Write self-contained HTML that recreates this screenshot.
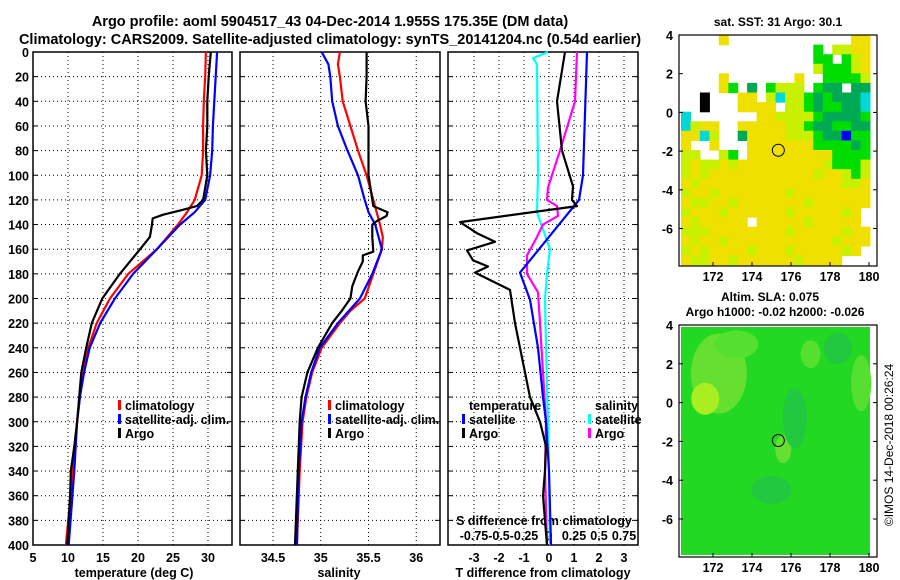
<!DOCTYPE html>
<html><head><meta charset="utf-8"><style>
html,body{margin:0;padding:0;background:#fff;}
svg{display:block;font-family:"Liberation Sans",sans-serif;font-weight:bold;}
</style></head><body>
<svg id="chart" width="900" height="580" viewBox="0 0 900 580" xmlns="http://www.w3.org/2000/svg">
<text x="330" y="26" font-size="14.5" text-anchor="middle">Argo profile: aoml 5904517_43 04-Dec-2014 1.955S 175.35E (DM data)</text>
<text x="330" y="44" font-size="14.5" text-anchor="middle">Climatology: CARS2009. Satellite-adjusted climatology: synTS_20141204.nc (0.54d earlier)</text>
<g id="layer"></g>
</svg>
<script>
// ---- data ----
const depthTicks=[0,20,40,60,80,100,120,140,160,180,200,220,240,260,280,300,320,340,360,380,400];
const tempTicks=[5,10,15,20,25,30];
const salTicks=[34.5,35,35.5,36];
const tdTicks=[-3,-2,-1,0,1,2,3];
const sdTickLabels=["-0.75","-0.5","-0.25","0","0.25","0.5","0.75"];
const sdTicks=[-0.75,-0.5,-0.25,0,0.25,0.5,0.75];

const tArgoD=[0,20,40,60,80,100,120,125,128,132,135,140,150,160,180,200,220,240,260,280,300,320,340,360,380,400];
const tArgo=[30.4,30.1,29.9,29.9,29.7,29.9,29.3,28.4,26.4,23.6,22.1,22.0,21.7,20.3,17.4,14.9,13.4,12.6,11.9,11.6,11.3,10.9,10.4,10.3,10.1,9.9];
const tClimD=[0,20,40,60,80,100,120,130,140,160,180,200,220,240,260,280,300,340,400];
const tClim=[29.7,29.6,29.4,29.3,29.3,29.1,28.1,27.0,25.7,22.7,18.6,16.0,14.1,12.9,12.1,11.7,11.3,10.7,9.7];
const tSat=[31.3,31.1,30.9,30.7,30.6,30.3,29.6,28.1,26.0,22.7,19.3,16.7,14.6,13.1,12.3,11.7,11.3,10.9,10.1];

const sArgoD=[0,20,40,60,80,100,110,125,130,133,137,140,150,162,165,170,178,190,200,210,220,240,260,280,300,340,400];
const sArgo=[35.48,35.48,35.47,35.50,35.50,35.50,35.52,35.55,35.70,35.69,35.59,35.54,35.54,35.55,35.44,35.44,35.39,35.33,35.31,35.22,35.12,34.97,34.86,34.80,34.78,34.76,34.73];
const sClimD=[0,10,20,40,60,80,100,120,140,150,160,180,200,210,220,240,260,280,300,340,400];
const sClim=[35.20,35.18,35.20,35.23,35.31,35.39,35.48,35.55,35.62,35.65,35.64,35.55,35.46,35.31,35.20,35.01,34.91,34.85,34.81,34.78,34.75];
const sSatD=[0,10,20,40,60,80,100,120,130,140,160,180,200,220,240,260,280,300,340,400];
const sSat=[35.01,35.08,35.10,35.12,35.18,35.28,35.39,35.46,35.50,35.57,35.64,35.54,35.41,35.18,34.99,34.90,34.84,34.80,34.77,34.75];

const dTArgoD=[0,40,80,109,120,125,138,147,154,161,169,174,179,193,220,240,260,280,300,320,340,360,380,400];
const dTArgo=[0.64,0.32,0.52,0.96,0.92,1.12,-3.56,-2.88,-2.16,-3.28,-3.04,-2.44,-2.96,-1.56,-1.36,-1.16,-0.96,-0.76,-0.36,-0.12,-0.16,-0.24,-0.16,-0.08];
const dTSatD=[0,100,120,179,201,240,280,300,340,400];
const dTSat=[1.52,1.36,1.2,-1.16,-0.76,-0.44,-0.24,-0.12,0,0.08];
const dSSatD=[0,5,10,100,130,160,180,200,240,300,340,400];
const dSSat=[-0.01,-0.16,-0.12,-0.11,-0.12,0.01,-0.02,-0.04,-0.03,-0.01,0,0.01];
const dSArgoD=[0,40,80,110,120,125,133,140,150,165,180,195,220,260,300,340,400];
const dSArgo=[0.28,0.26,0.11,-0.01,-0.02,0.08,0.09,-0.06,-0.12,-0.22,-0.22,-0.11,-0.09,-0.06,-0.03,-0.04,-0.02];

const latTicks=[4,2,0,-2,-4,-6];
const lonTicks=[172,174,176,178,180];
const sstGrid=[
"wwwwywwwwwwwwwwwwwyy","wwwwwwwwwwwwwwgwllyy","wwwwwwwwwwwwwwggwgly","wwwwwwwwwwwwwwlgggly",
"wwwwywwwwwwwywwggggl","wwwwygwdwglllwgddwdd","wwkwwwyywlcllgdgdddc","wwkwwwyyyywllgdggddc",
"cwwwwwwwyyllllgddddg","clyywwyyyyyllgddggdd","yyclwwdyyyylllgddbgg","ywwywwwyyyyyyyggggdg",
"llwwlgwyyyyyyyyygggg","lyllylyyyyyyyyylgggl","lylyyyyyyyyyyylyylgl","ylyyyyyyyyyyyyyyylly",
"lyylyyyyyyylyyyyyyyy","yllyylyyyyyyylyyyyyy","lyyylyyyyyylyyyyylyw","ylyyyyywyyyyylyyyyyw",
"lllyyyyyyyylyyyyylyy","ylyylyyyyyyyyyyylyyy","lylyyyylyyylyyyyylyw","yllyylyyyyyylyyyywww"];
const argoLon=175.35, argoLat=-1.955;

// ---- helpers ----
const NS="http://www.w3.org/2000/svg";
const layer=document.getElementById('layer');
function mk(tag,attrs,parent){const e=document.createElementNS(NS,tag);for(const k in attrs)e.setAttribute(k,attrs[k]);(parent||layer).appendChild(e);return e;}
const Y0=52,Y1=545;
const yD=d=>Y0+d*(Y1-Y0)/400;
const xT=v=>33+(v-5)*7;
const xS=v=>273+(v-34.5)*95.5;
const xDT=v=>549+v*25;
const xDS=v=>549+v*100;
const panels=[{x0:33,x1:232,f:xT,ticks:tempTicks,name:'temperature-panel'},{x0:240,x1:440,f:xS,ticks:salTicks,name:'salinity-panel'},{x0:448,x1:638,f:xDT,ticks:tdTicks,name:'difference-panel'}];

panels.forEach((p,i)=>{
  const g=mk('g',{});
  
  
  depthTicks.forEach(d=>{
    if(d>0&&d<400){const l=mk('line',{x1:p.x0,x2:p.x1,y1:yD(d),y2:yD(d),stroke:'#000','stroke-width':1,'stroke-dasharray':'1 3'},g);
    
    mk('line',{x1:p.x0,x2:p.x0+5,y1:yD(d),y2:yD(d),stroke:'#000'},g);
    mk('line',{x1:p.x1-5,x2:p.x1,y1:yD(d),y2:yD(d),stroke:'#000'},g);}
  });
  p.ticks.forEach(t=>{
    const x=p.f(t);
    if(x>p.x0+1&&x<p.x1-1){const l=mk('line',{x1:x,x2:x,y1:Y0,y2:Y1,stroke:'#000','stroke-width':1,'stroke-dasharray':'1 3'},g);
    }
    const tx=mk('text',{x:x,y:562,'font-size':12.5,'text-anchor':'middle'},g);tx.textContent=String(t);
    
  });
  const r=mk('rect',{x:p.x0,y:Y0,width:p.x1-p.x0,height:Y1-Y0,fill:'none',stroke:'#000','stroke-width':1.5},g);
  
});
depthTicks.forEach(d=>{const t=mk('text',{x:29,y:yD(d)+5,'font-size':12.5,'text-anchor':'end'});t.textContent=d;
  });

function axLabel(x,y,s,name){const t=mk('text',{x:x,y:y,'font-size':12.5,'text-anchor':'middle'});t.textContent=s;
  }
axLabel(134,577,'temperature (deg C)','temperature-axis-title');
axLabel(339,577,'salinity','salinity-axis-title');
axLabel(543,577,'T difference from climatology','t-diff-axis-title');
axLabel(544,525,'S difference from climatology','s-diff-axis-title');
sdTicks.forEach((v,i)=>{const t=mk('text',{x:xDS(v),y:540,'font-size':12.5,'text-anchor':'middle'});t.textContent=sdTickLabels[i];
  });

function series(ds,vs,fx,color,name){
  const pts=ds.map((d,i)=>fx(vs[i]).toFixed(1)+','+yD(d).toFixed(1)).join(' ');
  const l=mk('polyline',{points:pts,fill:'none',stroke:color,'stroke-width':2.2,'stroke-linejoin':'round'});
  
}
series(tClimD,tClim,xT,'#ff0000','temp-climatology-line');
series(tClimD,tSat,xT,'#0000ff','temp-satellite-line');
series(tArgoD,tArgo,xT,'#000','temp-argo-line');
series(sClimD,sClim,xS,'#ff0000','sal-climatology-line');
series(sSatD,sSat,xS,'#0000ff','sal-satellite-line');
series(sArgoD,sArgo,xS,'#000','sal-argo-line');
series(dSSatD,dSSat,xDS,'#00ffff','sdiff-satellite-line');
series(dSArgoD,dSArgo,xDS,'#ff00ff','sdiff-argo-line');
series(dTSatD,dTSat,xDT,'#0000ff','tdiff-satellite-line');
series(dTArgoD,dTArgo,xDT,'#000','tdiff-argo-line');

function legend(x,y,color,label,name){
  if(color){const m=mk('rect',{x:x-7,y:y-10,width:3,height:10,fill:color});}
  const t=mk('text',{x:x,y:y,'font-size':12.5});t.textContent=label;
}
legend(125,410,'#ff0000','climatology','legend-climatology');
legend(125,424,'#0000ff','satellite-adj. clim.','legend-satellite');
legend(125,438,'#000','Argo','legend-argo');
legend(335,410,'#ff0000','climatology','legend-climatology-2');
legend(335,424,'#0000ff','satellite-adj. clim.','legend-satellite-2');
legend(335,438,'#000','Argo','legend-argo-2');
legend(469,410,null,'temperature','legend-temperature');
legend(469,424,'#0000ff','satellite','legend-t-satellite');
legend(469,438,'#000','Argo','legend-t-argo');
legend(595,410,null,'salinity','legend-salinity');
legend(595,424,'#00ffff','satellite','legend-s-satellite');
legend(595,438,'#ff00ff','Argo','legend-s-argo');

// ---- maps ----
const MX0=679,MX1=877;
const lonX=l=>713+(l-172)*19.5;
const colors={w:'#ffffff',y:'#f0e000',l:'#c8f000',g:'#00dd00',d:'#00aa55',c:'#00d8d8',k:'#000000',b:'#0000ff'};
const T0=35,T1=266;
const latT=v=>T0+(4-v)*19.35;
const gTop=mk('g',{});


const cw=(870-681)/20, ch=(265-35)/24;
sstGrid.forEach((row,r)=>{for(let c=0;c<row.length;c++){const ch_=row[c];if(ch_==='w')continue;
  mk('rect',{x:(681+c*cw).toFixed(1),y:(35+r*ch).toFixed(1),width:(cw+0.6).toFixed(1),height:(ch+0.6).toFixed(1),fill:colors[ch_]},gTop);}});
const B0=325,B1=557;
const latB=v=>B0+(4-v)*19.4;
const gBot=mk('g',{});


mk('rect',{x:681,y:B0+2,width:189,height:B1-B0-4,fill:'#22d822'},gBot);
mk('ellipse',{cx:lonX(172.3),cy:latB(1.5),rx:28,ry:40,fill:'#66e030'},gBot);
mk('ellipse',{cx:lonX(171.6),cy:latB(0.2),rx:14,ry:16,fill:'#a8ee20'},gBot);
mk('ellipse',{cx:lonX(173.2),cy:latB(3.0),rx:22,ry:14,fill:'#55e030'},gBot);
mk('ellipse',{cx:lonX(175.6),cy:latB(-2.4),rx:8,ry:14,fill:'#66e030'},gBot);
mk('ellipse',{cx:lonX(176.2),cy:latB(-0.8),rx:12,ry:30,fill:'#22c840'},gBot);
mk('ellipse',{cx:lonX(175),cy:latB(-4.5),rx:20,ry:14,fill:'#22c840'},gBot);
mk('ellipse',{cx:lonX(177),cy:latB(2.5),rx:10,ry:14,fill:'#55e030'},gBot);
mk('ellipse',{cx:lonX(179.6),cy:latB(1),rx:10,ry:28,fill:'#55e030'},gBot);
mk('ellipse',{cx:lonX(178.4),cy:latB(2.8),rx:14,ry:16,fill:'#22c840'},gBot);

[[T0,T1,latT],[B0,B1,latB]].forEach(([a,b,lf],k)=>{
  const fr=mk('rect',{x:MX0,y:a,width:MX1-MX0,height:b-a,fill:'none',stroke:'#000','stroke-width':1.2});
  
  latTicks.forEach(v=>{const y=lf(v);
    mk('line',{x1:MX0,x2:MX0+4,y1:y,y2:y,stroke:'#000'});mk('line',{x1:MX1-4,x2:MX1,y1:y,y2:y,stroke:'#000'});
    const t=mk('text',{x:673,y:y+5,'font-size':12.5,'text-anchor':'end'});t.textContent=v;
    });
  lonTicks.forEach(v=>{const x=lonX(v);
    mk('line',{x1:x,x2:x,y1:b-4,y2:b,stroke:'#000'});
    const t=mk('text',{x:x,y:b+15,'font-size':12.5,'text-anchor':'middle'});t.textContent=v;
    });
  const m=mk('circle',{cx:lonX(argoLon),cy:lf(argoLat),r:6,fill:'none',stroke:'#000','stroke-width':1});
  
});
function mt(x,y,s,name){const t=mk('text',{x:x,y:y,'font-size':12,'text-anchor':'middle'});t.textContent=s;}
mt(778,26,'sat. SST: 31 Argo: 30.1','sst-map-title');
mt(770,301,'Altim. SLA: 0.075','sla-map-title');
mt(775,316,'Argo h1000: -0.02 h2000: -0.026','sla-map-subtitle');
const cr=mk('text',{x:0,y:0,'font-size':12,'font-weight':'normal','text-anchor':'middle',transform:'translate(893,445) rotate(-90)'});
cr.textContent='©IMOS 14-Dec-2018 00:26:24';


</script>
</body></html>
